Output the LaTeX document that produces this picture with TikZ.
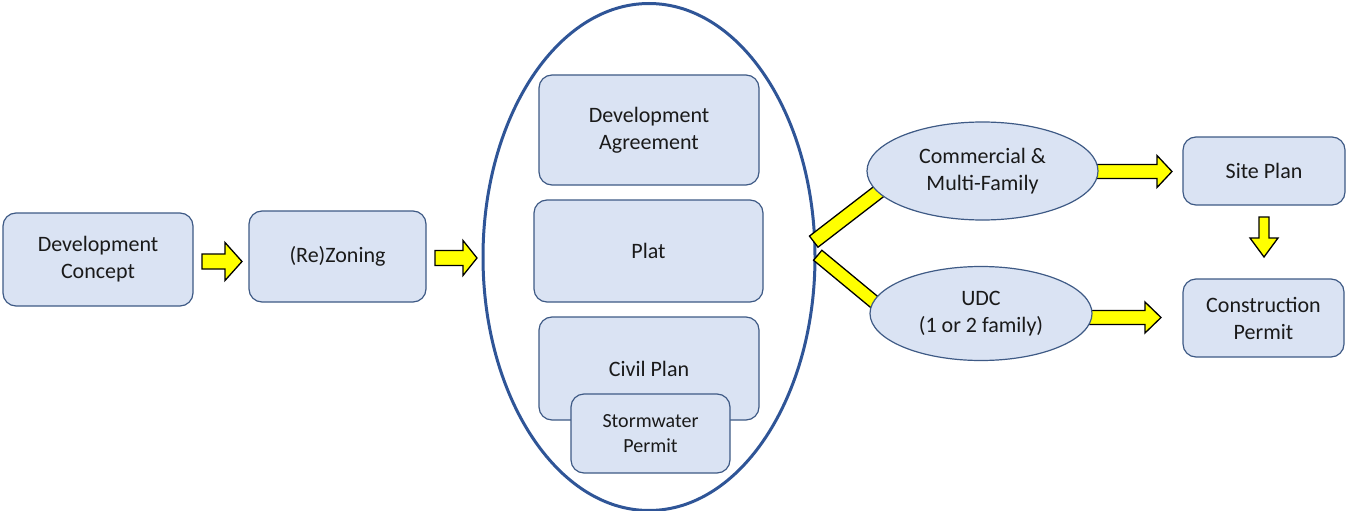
\documentclass[tikz,border=0pt]{standalone}
\usepackage{fontspec}
\setmainfont{Carlito}
\begin{document}
\begin{tikzpicture}[x=1pt,y=-1pt,
  box/.style={draw=boxline, line width=1.2pt, fill=boxfill, rounded corners=13pt,
    align=center, text=textcol, font=\fontsize{22}{27}\selectfont, inner sep=0pt},
  oval/.style={ellipse, draw=boxline, line width=1.2pt, fill=boxfill,
    align=center, text=textcol, font=\fontsize{22}{27}\selectfont, inner sep=0pt},
  yarrow/.style={draw=black, line width=1.3pt, fill=yellow, line join=miter},
  bar/.style={draw=black, line width=1.3pt, fill=yellow, inner sep=0pt},
  pics/blockarrow/.style n args={4}{code={%
    % #1 total length, #2 head length, #3 shaft width, #4 head width
    \draw[yarrow] (-#1/2,-#3/2) -- (#1/2-#2,-#3/2) -- (#1/2-#2,-#4/2) -- (#1/2,0)
      -- (#1/2-#2,#4/2) -- (#1/2-#2,#3/2) -- (-#1/2,#3/2) -- cycle;}}
]
\usetikzlibrary{shapes.geometric}
\definecolor{boxfill}{HTML}{DAE3F3}
\definecolor{boxline}{HTML}{3E5A85}
\definecolor{ringline}{HTML}{2F5597}
\definecolor{textcol}{HTML}{1A1A1A}
\definecolor{yellow}{HTML}{FFFF00}

\useasboundingbox (0,0) rectangle (1347,511);

% main grouping ellipse
\node[ellipse, draw=ringline, line width=3pt, minimum width=332pt, minimum height=507pt,
  inner sep=0pt] (group) at (649,257) {};

% boxes inside the ellipse
\node[box, minimum width=220pt, minimum height=110pt] (agree) at (649,130) {Development\\Agreement};
\node[box, minimum width=229pt, minimum height=102pt] (plat) at (648.5,251) {Plat};
\node[box, minimum width=220pt, minimum height=103pt] (civil) at (649,368.5) {Civil Plan};
\node[box, font=\fontsize{20}{24.5}\selectfont, minimum width=159pt, minimum height=79pt]
  (storm) at (650.5,433.5) {Stormwater\\Permit};

% left chain
\node[box, minimum width=190pt, minimum height=93pt] (concept) at (98,259.5) {Development\\Concept};
\node[box, minimum width=177pt, minimum height=91pt] (zoning) at (337.5,256.5) {(Re)Zoning};

% right side
\node[box, minimum width=162pt, minimum height=68pt] (site) at (1264,171) {Site Plan};
\node[box, minimum width=161pt, minimum height=78pt] (permit) at (1263.5,318) {Construction\\Permit};

% branch bars from the group to the two paths
\node[bar, rotate=37.6, minimum width=84pt, minimum height=14pt] (bar1) at (847,216) {};
\node[bar, rotate=-39.6, minimum width=76pt, minimum height=13pt] (bar2) at (847,279.5) {};

% arrows into the boxes on the right
\pic at (1131,171.5) {blockarrow={82}{15}{14}{32}};
\pic at (1123,317.5) {blockarrow={76}{16}{14}{31}};

\node[oval, minimum width=231pt, minimum height=98pt] (comm) at (982.5,171) {Commercial \&\\Multi-Family};
\node[oval, minimum width=222pt, minimum height=94pt] (udc) at (981,313.5) {UDC\\(1 or 2 family)};

% flow arrows
\pic at (222,261.5) {blockarrow={40}{17}{15}{38}};
\pic at (456,258) {blockarrow={42}{14}{15}{35}};
\pic[rotate=-90] at (1264,237) {blockarrow={40}{19}{10}{28}};
\end{tikzpicture}
\end{document}
